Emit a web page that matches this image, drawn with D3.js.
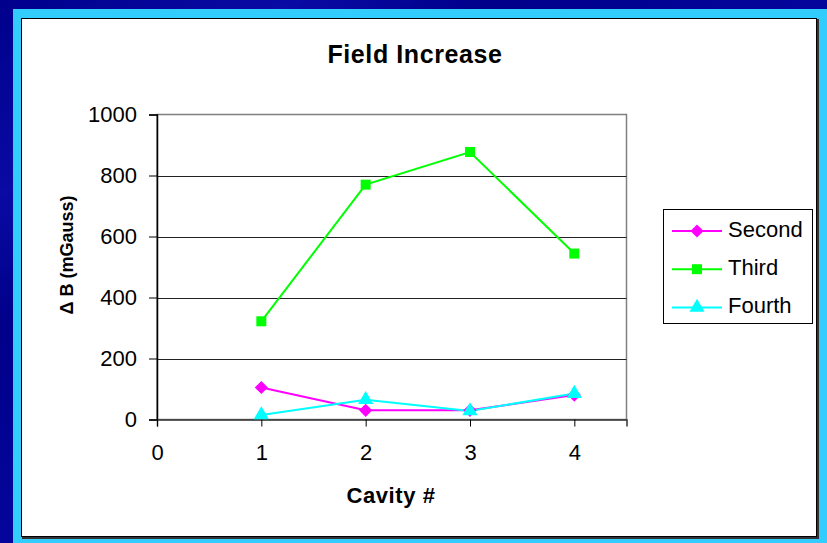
<!DOCTYPE html>
<html>
<head>
<meta charset="utf-8">
<style>
    body { margin: 0; background: #000088; }
    svg { display: block; }
    text { font-family: "Liberation Sans", Arial, sans-serif; fill: #000; }
</style>
<script src="https://d3js.org/d3.v7.min.js"></script>
</head>
<body>
<svg width="827" height="543">
    <defs>
        <linearGradient id="bg" x1="0%" y1="0%" x2="100%" y2="100%">
            <stop offset="0%" stop-color="#00008c"/>
            <stop offset="18%" stop-color="#0a0aa4"/>
            <stop offset="30%" stop-color="#00008a"/>
            <stop offset="55%" stop-color="#0606a0"/>
            <stop offset="75%" stop-color="#000088"/>
            <stop offset="100%" stop-color="#05059c"/>
        </linearGradient>
    </defs>
</svg>
<script>
    // chart values
    var cavities = [1, 2, 3, 4];
    var secondVals = [105, 30, 30, 80];
    var thirdVals = [322, 770, 877, 544];
    var fourthVals = [15, 65, 28, 85];
    var xTicks = [0, 1, 2, 3, 4];
    var yTicks = [0, 200, 400, 600, 800, 1000];

    var diamond = d3.symbolDiamond2 || d3.symbolDiamond;

    var series = [
        {name: "Second", values: secondVals, color: "#ff00ff", symbol: diamond, size: 110},
        {name: "Third", values: thirdVals, color: "#00ff00", symbol: d3.symbolSquare, size: 100},
        {name: "Fourth", values: fourthVals, color: "#00ffff", symbol: d3.symbolTriangle, size: 100}
    ];

    var svg = d3.select("svg");

    // background + frame
    svg.append("rect").attr("width", 827).attr("height", 543).attr("fill", "url(#bg)");
    svg.append("rect").attr("x", 13).attr("y", 9).attr("width", 814).attr("height", 534).attr("fill", "#33ccff");
    svg.append("rect").attr("x", 22).attr("y", 19).attr("width", 797).attr("height", 520).attr("fill", "#333");
    svg.append("rect").attr("x", 21.5).attr("y", 18.5).attr("width", 795).attr("height", 518)
        .attr("fill", "#fff").attr("stroke", "#000").attr("stroke-width", 1);

    var plot = {left: 157, top: 114.5, right: 626.5, bottom: 419.5};

    var x = d3.scaleLinear().domain([0, 4.5]).range([plot.left, plot.right]);
    var y = d3.scaleLinear().domain([0, 1000]).range([plot.bottom, plot.top]);

    // plot border (top/right gray)
    svg.append("rect")
        .attr("x", plot.left).attr("y", plot.top)
        .attr("width", plot.right - plot.left).attr("height", plot.bottom - plot.top)
        .attr("fill", "none").attr("stroke", "#808080").attr("stroke-width", 1.5);

    // gridlines
    svg.append("g").selectAll("line")
        .data(yTicks.filter(function(d) { return d > 0 && d < 1000; }))
        .enter().append("line")
        .attr("x1", plot.left).attr("x2", plot.right)
        .attr("y1", function(d) { return Math.round(y(d)) + 0.5; })
        .attr("y2", function(d) { return Math.round(y(d)) + 0.5; })
        .attr("stroke", "#222").attr("stroke-width", 1.2);

    // y axis
    var ay = svg.append("g")
        .attr("transform", "translate(" + plot.left + ",0)")
        .call(d3.axisLeft(y).tickValues(yTicks).tickSize(8).tickPadding(12).tickFormat(d3.format("d")));
    ay.select(".domain").attr("stroke", "#000").attr("stroke-width", 1.5);
    ay.selectAll(".tick line").attr("stroke", "#000");
    ay.selectAll("text").style("font-size", "22px").attr("fill", "#000").attr("font-family", null);

    // x axis
    var ax = svg.append("g")
        .attr("transform", "translate(0," + plot.bottom + ")")
        .call(d3.axisBottom(x).tickValues(xTicks).tickSize(7).tickPadding(18).tickFormat(d3.format("d")));
    ax.select(".domain").attr("stroke", "#333").attr("stroke-width", 1.5);
    ax.selectAll(".tick line").attr("stroke", "#000");
    ax.selectAll("text").style("font-size", "22px").attr("fill", "#000").attr("font-family", null);

    // lines + markers
    var line = d3.line()
        .x(function(d, i) { return x(cavities[i]); })
        .y(function(d) { return y(d); });

    series.forEach(function(s) {
        svg.append("path")
            .datum(s.values)
            .attr("fill", "none")
            .attr("stroke", s.color)
            .attr("stroke-width", 2)
            .attr("d", line);
    });
    series.forEach(function(s) {
        svg.append("g").selectAll("path")
            .data(s.values)
            .enter().append("path")
            .attr("transform", function(d, i) { return "translate(" + x(cavities[i]) + "," + y(d) + ")"; })
            .attr("d", d3.symbol().type(s.symbol).size(s.size))
            .attr("fill", s.color);
    });

    // titles
    svg.append("text")
        .attr("x", 415).attr("y", 63)
        .attr("text-anchor", "middle")
        .style("font-size", "25px").style("font-weight", "bold").style("letter-spacing", "0.6px")
        .text("Field Increase");

    svg.append("text")
        .attr("x", 391).attr("y", 503)
        .attr("text-anchor", "middle")
        .style("font-size", "22px").style("font-weight", "bold").style("letter-spacing", "0.6px")
        .text("Cavity #");

    svg.append("text")
        .attr("transform", "translate(73,255) rotate(-90)")
        .attr("text-anchor", "middle")
        .style("font-size", "18px").style("font-weight", "bold")
        .text("\u0394 B (mGauss)");

    // legend
    var lg = svg.append("g");
    lg.append("rect")
        .attr("x", 663.5).attr("y", 209.5).attr("width", 149).attr("height", 114)
        .attr("fill", "#fff").attr("stroke", "#000").attr("stroke-width", 1);

    var item = lg.selectAll(".item")
        .data(series)
        .enter().append("g")
        .attr("class", "item")
        .attr("transform", function(d, i) { return "translate(0," + (231 + i * 38.2) + ")"; });
    item.append("line")
        .attr("x1", 672).attr("x2", 722)
        .attr("stroke", function(d) { return d.color; })
        .attr("stroke-width", 2);
    item.append("path")
        .attr("transform", "translate(697,0)")
        .attr("d", function(d) { return d3.symbol().type(d.symbol).size(d.size)(); })
        .attr("fill", function(d) { return d.color; });
    item.append("text")
        .attr("x", 728).attr("y", 6)
        .style("font-size", "22px")
        .text(function(d) { return d.name; });
</script>
</body>
</html>
